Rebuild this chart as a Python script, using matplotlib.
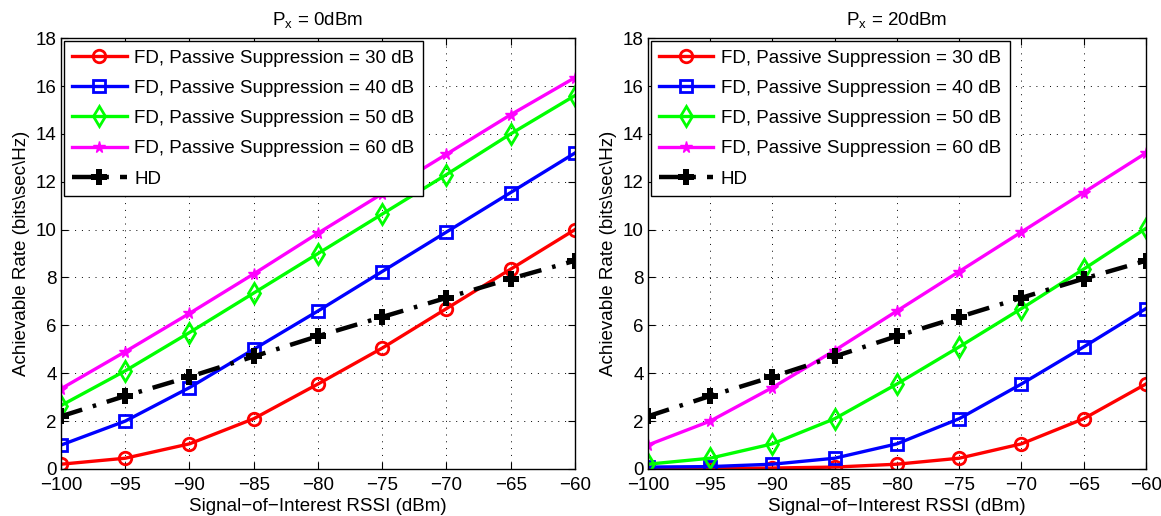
import matplotlib
matplotlib.use("Agg")
import matplotlib.pyplot as plt

plt.rcParams['font.family'] = ['Liberation Sans', 'DejaVu Sans']
plt.rcParams['mathtext.fontset'] = 'custom'
plt.rcParams['mathtext.rm'] = 'Liberation Sans'

rssi = [-100, -95, -90, -85, -80, -75, -70, -65, -60]

# Tx power 0 dBm
fd30_p0 = [0.2, 0.45, 1.05, 2.1, 3.55, 5.05, 6.7, 8.35, 10.0]
fd40_p0 = [1.0, 2.0, 3.4, 5.0, 6.6, 8.25, 9.9, 11.55, 13.2]
fd50_p0 = [2.65, 4.1, 5.7, 7.35, 9.0, 10.65, 12.3, 14.0, 15.6]
fd60_p0 = [3.35, 4.9, 6.5, 8.15, 9.85, 11.5, 13.15, 14.8, 16.35]

# Tx power 20 dBm
fd30_p20 = [0.01, 0.02, 0.04, 0.08, 0.2, 0.45, 1.05, 2.1, 3.55]
fd40_p20 = [0.08, 0.1, 0.2, 0.45, 1.05, 2.1, 3.55, 5.1, 6.7]
fd50_p20 = [0.2, 0.45, 1.05, 2.1, 3.55, 5.1, 6.7, 8.35, 10.05]
fd60_p20 = [1.0, 2.0, 3.4, 4.95, 6.6, 8.25, 9.9, 11.55, 13.2]

hd = [2.2, 3.05, 3.85, 4.7, 5.55, 6.35, 7.15, 7.95, 8.7]

labels = ['FD, Passive Suppression = 30 dB',
          'FD, Passive Suppression = 40 dB',
          'FD, Passive Suppression = 50 dB',
          'FD, Passive Suppression = 60 dB',
          'HD']
titles = [r'P$_\mathregular{x}$ = 0dBm', r'P$_\mathregular{x}$ = 20dBm']

fig = plt.figure(figsize=(11.61, 5.16), dpi=100)
ax1 = fig.add_axes([0.0525, 0.0911, 0.4427, 0.835])
ax2 = fig.add_axes([0.558, 0.0911, 0.429, 0.835])

FS = 13.5

def draw(ax, s30, s40, s50, s60, title):
    lw = 2.4
    ax.plot(rssi, s30, color='#ff0000', lw=lw, marker='o', ms=9, mfc='none', mew=2, label=labels[0])
    ax.plot(rssi, s40, color='#0000ff', lw=lw, marker='s', ms=9, mfc='none', mew=2, label=labels[1])
    ax.plot(rssi, s50, color='#00ff00', lw=lw, marker='d', ms=10, mfc='none', mew=2, label=labels[2])
    ax.plot(rssi, s60, color='#ff00ff', lw=lw, marker='*', ms=8.5, label=labels[3])
    ax.plot(rssi, hd, color='black', lw=3.2, ls=(0, (5, 2.5, 0.8, 2.5)), marker='P', ms=11, mew=0,
            label=labels[4])
    ax.set_xlim(-100, -60)
    ax.set_ylim(0, 18)
    ax.set_xticks(rssi)
    ax.set_yticks(range(0, 19, 2))
    ax.tick_params(direction='in', top=True, right=True, labelsize=FS, length=5, width=0.8)
    ax.tick_params(axis='x', pad=6)
    ax.tick_params(axis='y', pad=3)
    ax.grid(True, color='black', linestyle=(0, (1, 6)), linewidth=0.7)
    for sp in ax.spines.values():
        sp.set_linewidth(1.0)
    ax.set_xlabel('Signal\u2212of\u2212Interest RSSI (dBm)', fontsize=FS, labelpad=3)
    ax.set_ylabel('Achievable Rate (bits\\sec\\Hz)', fontsize=FS, labelpad=4)
    ax.set_title(title, fontsize=FS, pad=9)
    leg = ax.legend(loc='upper left', fontsize=FS, fancybox=False, framealpha=1,
                    edgecolor='black', handlelength=2.9, borderaxespad=0.15,
                    labelspacing=0.7, handletextpad=0.4, borderpad=0.45)
    leg.get_frame().set_linewidth(1.0)

draw(ax1, fd30_p0, fd40_p0, fd50_p0, fd60_p0, titles[0])
draw(ax2, fd30_p20, fd40_p20, fd50_p20, fd60_p20, titles[1])

fig.savefig('out.png', dpi=100)
